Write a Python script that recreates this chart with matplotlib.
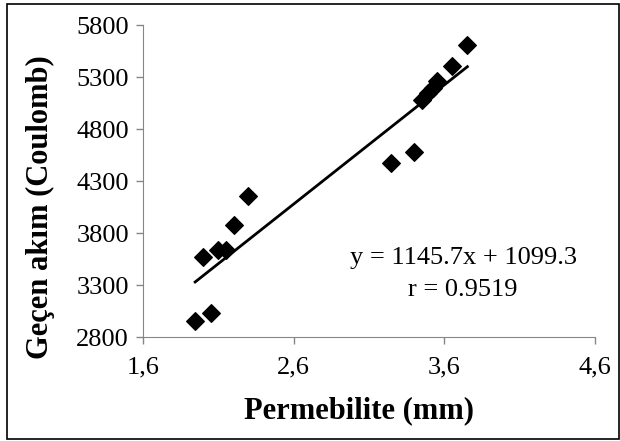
import numpy as np
import matplotlib.pyplot as plt
from matplotlib.patches import Rectangle

# Data
permebilite = [1.946, 2.051, 2.001, 2.098, 2.151, 2.203, 2.298, 3.247, 3.399,
               3.452, 3.491, 3.522, 3.551, 3.648, 3.753]
akim = [2955, 3029, 3568, 3632, 3639, 3874, 4158, 4477, 4577,
        5083, 5142, 5197, 5262, 5407, 5610]
slope, intercept = 1145.7, 1099.3
r_value = 0.9519

x_ticks = [1.6, 2.6, 3.6, 4.6]
x_ticklabels = ['1,6', '2,6', '3,6', '4,6']
y_ticks = [2800, 3300, 3800, 4300, 4800, 5300, 5800]

plt.rcParams['font.family'] = ['Liberation Serif', 'DejaVu Serif']

fig = plt.figure(figsize=(6.2, 4.41), dpi=100)
ax = fig.add_axes([143 / 620, 1 - 337 / 441, 452 / 620, 312 / 441])

ax.scatter(permebilite, akim, marker='D', s=80, color='black', zorder=3)

# trend line over the data range
xl = np.array([min(permebilite), max(permebilite)])
ax.plot(xl, slope * xl + intercept, color='black', linewidth=2, zorder=2)

ax.set_xlim(1.6, 4.6)
ax.set_ylim(2800, 5800)
ax.set_xticks(x_ticks)
ax.set_xticklabels(x_ticklabels)
ax.set_yticks(y_ticks)
ax.tick_params(labelsize=19, color='#868686', length=5, width=1)
ax.tick_params(axis='x', pad=9)
ax.tick_params(axis='y', pad=5)
for side in ['top', 'right']:
    ax.spines[side].set_visible(False)
for side in ['left', 'bottom']:
    ax.spines[side].set_color('#868686')

ax.set_xlabel('Permebilite (mm)', fontsize=22, fontweight='bold')
ax.xaxis.set_label_coords(0.478, -0.235, transform=ax.transAxes)
ax.xaxis.label.set_va('center')
ax.set_ylabel('Geçen akım (Coulomb)', fontsize=22, fontweight='bold')
ax.yaxis.set_label_coords(40 / 620, 1 - 207 / 441, transform=fig.transFigure)
ax.yaxis.label.set_va('center')

ax.text(3.73, 3560, f'y = {slope}x + {intercept}', fontsize=19, ha='center', va='center')
ax.text(3.72, 3252, f'r = {r_value}', fontsize=19, ha='center', va='center')

fig.patches.append(Rectangle((7 / 620, 2 / 441), 612 / 620, 435 / 441,
                             transform=fig.transFigure, fill=False,
                             edgecolor='black', linewidth=1.2))

fig.savefig('out.png', dpi=100)
